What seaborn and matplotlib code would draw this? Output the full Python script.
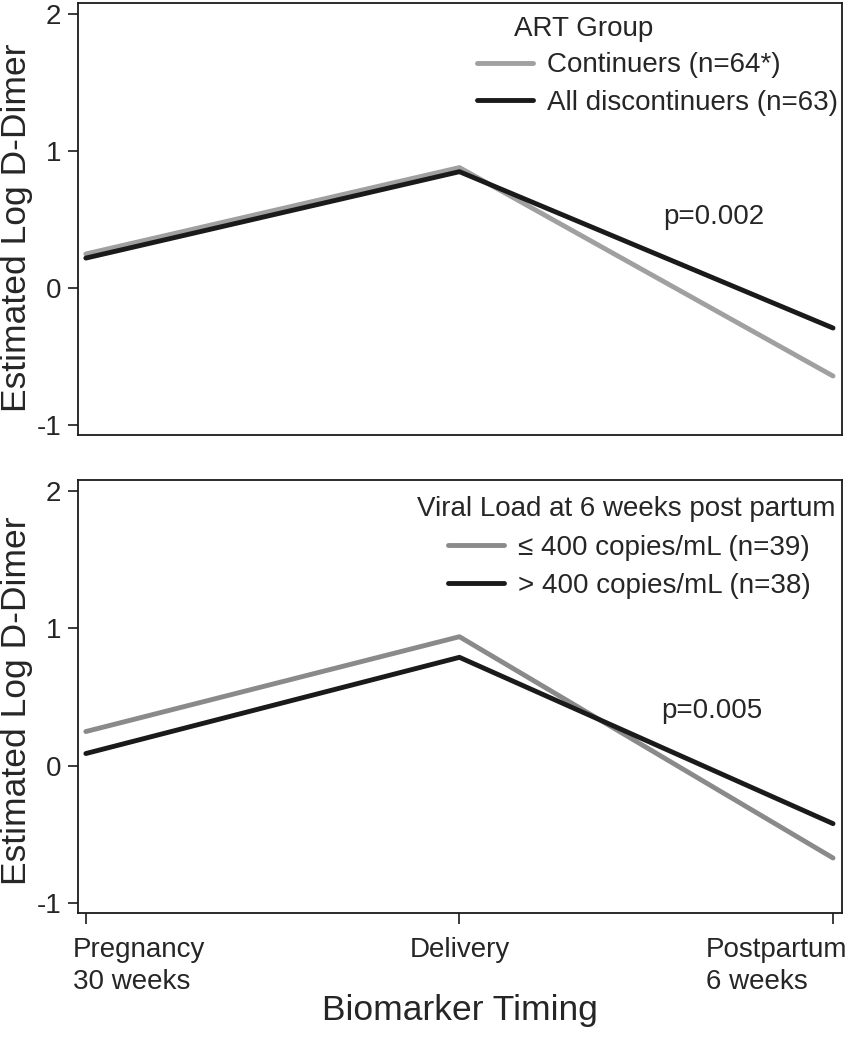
import matplotlib
matplotlib.use("Agg")
import matplotlib.pyplot as plt
import matplotlib.transforms as mtransforms
import seaborn as sns
import pandas as pd

# values (estimated log D-dimer)
positions = [0, 1, 2]
timepoints = ["Pregnancy\n30 weeks", "Delivery", "Postpartum\n6 weeks"]

art_labels = ["Continuers (n=64*)", "All discontinuers (n=63)"]
continuers = [0.25, 0.88, -0.64]
discontinuers = [0.22, 0.85, -0.29]

vl_labels = ["\u2264 400 copies/mL (n=39)", "> 400 copies/mL (n=38)"]
vl_low = [0.25, 0.94, -0.67]
vl_high = [0.09, 0.79, -0.42]

sns.set_style("white")
plt.rcParams['font.family'] = ['Liberation Sans', 'DejaVu Sans']
plt.rcParams['axes.unicode_minus'] = False

FS = 20
dark = "#1a1a1a"


def make_df(labels, a, b):
    rows = []
    for lab, vals in zip(labels, [a, b]):
        for p, v in zip(positions, vals):
            rows.append({"pos": p, "value": v, "group": lab})
    return pd.DataFrame(rows)


def style_axis(ax):
    ax.set_xlim(-0.021, 2.024)
    ax.set_ylim(-1.07, 2.08)
    for s in ax.spines.values():
        s.set_visible(True)
        s.set_color(dark)
        s.set_linewidth(1.3)
    ax.set_yticks([-1, 0, 1, 2])
    ax.set_yticklabels(["-1", "0", "1", "2"])
    ax.tick_params(axis="y", direction="out", length=7, width=1.2,
                   color=dark, pad=5, labelsize=FS, left=True)
    ax.set_ylabel("Estimated Log D-Dimer", fontsize=25.5)
    ax.yaxis.label.set_va("center")
    ax.set_xlabel("")


fig = plt.figure(figsize=(8.49, 10.5), dpi=100)
ax1 = fig.add_axes([78 / 849, 1 - 435 / 1050, 764 / 849, 432 / 1050])
ax2 = fig.add_axes([78 / 849, 1 - 913 / 1050, 764 / 849, 433 / 1050])

# top panel: ART group
df1 = make_df(art_labels, continuers, discontinuers)
sns.lineplot(data=df1, x="pos", y="value", hue="group",
             palette=["#a0a0a0", dark], linewidth=3.5, ax=ax1, legend=False)
style_axis(ax1)
ax1.set_xticks([])
ax1.yaxis.set_label_coords(-0.081, 0.48)
ax1.legend(ax1.get_lines()[:2], art_labels, loc="upper left",
           bbox_to_anchor=(1.048, 1.72), bbox_transform=ax1.transData,
           frameon=False, fontsize=FS, handlelength=2.0, handletextpad=0.5,
           labelspacing=0.42, borderpad=0, borderaxespad=0)
ax1.text(1.145, 1.89, "ART Group", fontsize=FS, va="center", ha="left")
ax1.text(1.545, 0.52, "p=0.002", fontsize=FS, va="center", ha="left")

# bottom panel: viral load
df2 = make_df(vl_labels, vl_low, vl_high)
sns.lineplot(data=df2, x="pos", y="value", hue="group",
             palette=["#8a8a8a", dark], linewidth=3.5, ax=ax2, legend=False)
style_axis(ax2)
ax2.yaxis.set_label_coords(-0.081, 0.49)
ax2.legend(ax2.get_lines()[:2], vl_labels, loc="upper left",
           bbox_to_anchor=(0.97, 1.68), bbox_transform=ax2.transData,
           frameon=False, fontsize=FS, handlelength=2.0, handletextpad=0.5,
           labelspacing=0.42, borderpad=0, borderaxespad=0)
ax2.text(0.886, 1.87, "Viral Load at 6 weeks post partum", fontsize=FS,
         va="center", ha="left")
ax2.text(1.54, 0.40, "p=0.005", fontsize=FS, va="center", ha="left")

ax2.set_xticks(positions)
ax2.set_xticklabels(timepoints)
ax2.tick_params(axis="x", direction="out", length=8, width=1.2,
                color=dark, pad=9, labelsize=FS, bottom=True)
ax2.set_xlabel("Biomarker Timing", fontsize=25.5)
ax2.xaxis.set_label_coords(0.5, -0.226)
ax2.xaxis.label.set_va("center")

shifts = [-13, 0, 14]
aligns = ["left", "center", "right"]
for lab, dx, ha in zip(ax2.get_xticklabels(), shifts, aligns):
    lab.set_ha(ha)
    lab.set_multialignment("left")
    lab.set_linespacing(1.3)
    off = mtransforms.ScaledTranslation(dx / 100, 0, fig.dpi_scale_trans)
    lab.set_transform(lab.get_transform() + off)

fig.savefig("out.png", dpi=100)
